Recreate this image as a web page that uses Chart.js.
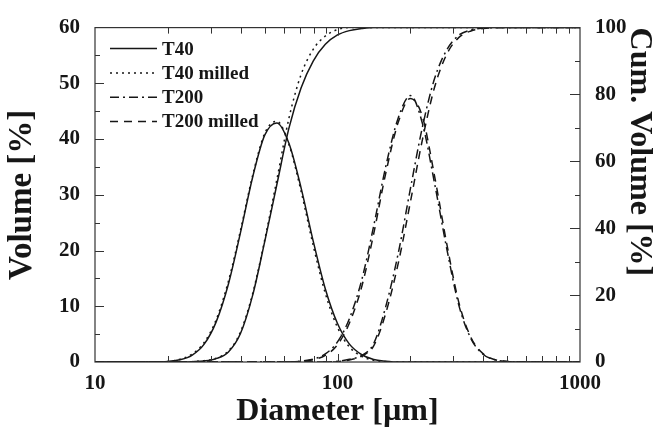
<!DOCTYPE html>
<html><head><meta charset="utf-8">
<script src="https://cdn.jsdelivr.net/npm/chart.js@4.4.1/dist/chart.umd.min.js"></script>
<style>html,body{margin:0;padding:0;background:#fff}#wrap{width:655px;height:431px}</style>
</head><body><div id="wrap"><canvas id="c" width="655" height="431"></canvas></div>
<script>
// ---- data ----
const diameters = [10, 11.2, 12.6, 14.1, 15.8, 17.8, 20, 22.4, 25.1, 28.2, 31.6, 35.5, 39.8, 44.7, 50.1, 56.2, 63.1, 70.8, 79.4, 89.1, 100, 112, 126, 141, 158, 178, 200, 224, 251, 282, 316, 355, 398, 447, 501, 562, 631, 708, 794, 891, 1000];
const t40Vol        = [0,0,0,0,0,0, 0.1,0.4,1.2,3.2,7.2,14.0,23.2,33.2,40.7,42.9,39.2,31.2,21.7,13.1,6.9,3.2,1.3,0.45,0.15, 0,0,0,0,0,0,0,0,0,0,0,0,0,0,0,0];
const t40MilledVol  = [0,0,0,0,0,0, 0.1,0.5,1.4,3.5,7.6,14.5,23.6,33.5,41.0,43.2,39.0,30.6,20.9,12.3,6.2,2.7,1.0,0.3,0.1, 0,0,0,0,0,0,0,0,0,0,0,0,0,0,0,0];
const t200Vol       = [0,0,0,0,0,0,0,0,0,0,0,0,0,0,0,0,0, 0.15,0.5,1.45,3.6,7.8,14.8,24.4,35.0,43.8,47.8,42.8,32.2,20.4,10.3,4.2,1.4,0.4,0.1, 0,0,0,0,0,0];
const t200MilledVol = [0,0,0,0,0,0,0,0,0,0,0,0,0,0,0,0,0, 0.1,0.4,1.2,3.1,7.0,13.6,23.0,33.8,43.0,47.3,44.0,33.5,21.3,10.8,4.4,1.5,0.4,0.1, 0,0,0,0,0,0];
const t40Cum        = [0,0,0,0,0,0,0,0, 0.1,0.3,1.0,3.0,8.5,20,36,53,70,82,90,95,97.8,99.1,99.7, 100,100,100,100,100,100,100,100,100,100,100,100,100,100,100,100,100,100];
const t40MilledCum  = [0,0,0,0,0,0,0,0, 0.1,0.4,1.1,3.3,9.0,20.5,36.5,54.5,73,86,93.5,97.5,99.4, 100,100,100,100,100,100,100,100,100,100,100,100,100,100,100,100,100,100,100,100];
const t200Cum       = [0,0,0,0,0,0,0,0,0,0,0,0,0,0,0,0,0,0,0,0, 0.2,0.8,2.0,5.5,16.5,32.5,52,70.3,84.6,93.3,97.7,99.3,99.85, 100,100,100,100,100,100,100,100];
const t200MilledCum = [0,0,0,0,0,0,0,0,0,0,0,0,0,0,0,0,0,0,0,0, 0.1,0.6,1.8,4.8,14.5,29.5,48,66.5,82,92,97,99,99.7, 100,100,100,100,100,100,100,100];

const seriesNames = ['T40', 'T40 milled', 'T200', 'T200 milled'];
const xTickLabels = [10, 100, 1000];
const xMinorTicks = [20, 30, 40, 50, 60, 70, 80, 90, 200, 300, 400, 500, 600, 700, 800, 900];
const yTicks = [0, 10, 20, 30, 40, 50, 60];
const y2Ticks = [0, 20, 40, 60, 80, 100];

// ---- styles ----
const FONT = "'Liberation Serif', 'Times New Roman', serif";
const INK = '#161616';
const dashStyles = [[], [2, 4], [9, 4, 2, 4], [8, 6]];

function pts(arr) { return diameters.map((d, i) => ({ x: d, y: arr[i] })); }
function ds(label, arr, styleIdx, axis, legend) {
  return {
    label: label, data: pts(arr), yAxisID: axis,
    borderColor: INK, borderWidth: 1.5, borderDash: dashStyles[styleIdx],
    pointRadius: 0, fill: false, cubicInterpolationMode: 'monotone',
    showInLegend: legend
  };
}

const datasets = [
  ds(seriesNames[0], t40Vol, 0, 'y', true),
  ds(seriesNames[1], t40MilledVol, 1, 'y', true),
  ds(seriesNames[2], t200Vol, 2, 'y', true),
  ds(seriesNames[3], t200MilledVol, 3, 'y', true),
  ds(seriesNames[0] + ' cum.', t40Cum, 0, 'y2', false),
  ds(seriesNames[1] + ' cum.', t40MilledCum, 1, 'y2', false),
  ds(seriesNames[2] + ' cum.', t200Cum, 2, 'y2', false),
  ds(seriesNames[3] + ' cum.', t200MilledCum, 3, 'y2', false)
];

const frameTicks = {
  id: 'frameTicks',
  afterDatasetsDraw(chart) {
    const ctx = chart.ctx, a = chart.chartArea;
    const sx = chart.scales.x, sy = chart.scales.y, sy2 = chart.scales.y2;
    ctx.save();
    ctx.strokeStyle = '#333'; ctx.lineWidth = 1.2; ctx.setLineDash([]);
    ctx.strokeRect(a.left, a.top, a.right - a.left, a.bottom - a.top);
    ctx.lineWidth = 1;
    ctx.beginPath();
    const xt = xMinorTicks.map(v => [v, 6]).concat([[100, 8]]);
    xt.forEach(([v, len]) => {
      const px = Math.round(sx.getPixelForValue(v)) + 0.5;
      ctx.moveTo(px, a.bottom); ctx.lineTo(px, a.bottom - len);
      ctx.moveTo(px, a.top); ctx.lineTo(px, a.top + len);
    });
    for (let v = 5; v < 60; v += 5) {
      const py = Math.round(sy.getPixelForValue(v)) + 0.5;
      const len = v % 10 === 0 ? 9 : 5;
      ctx.moveTo(a.left, py); ctx.lineTo(a.left + len, py);
    }
    for (let v = 10; v < 100; v += 10) {
      const py = Math.round(sy2.getPixelForValue(v)) + 0.5;
      const len = v % 20 === 0 ? 10 : 5;
      ctx.moveTo(a.right, py); ctx.lineTo(a.right - len, py);
    }
    ctx.stroke();
    ctx.restore();
  }
};

const inlineLegend = {
  id: 'inlineLegend',
  afterDraw(chart) {
    const ctx = chart.ctx, a = chart.chartArea;
    const entries = chart.data.datasets.filter(d => d.showInLegend);
    ctx.save();
    entries.forEach((d, i) => {
      const y = a.top + 21 + i * 24.3;
      ctx.beginPath();
      ctx.setLineDash(d.borderDash);
      ctx.lineWidth = d.borderWidth;
      ctx.strokeStyle = d.borderColor;
      ctx.moveTo(a.left + 15, y); ctx.lineTo(a.left + 62, y);
      ctx.stroke();
      ctx.setLineDash([]);
      ctx.fillStyle = INK;
      ctx.font = 'bold 19px ' + FONT;
      ctx.textBaseline = 'middle';
      ctx.textAlign = 'left';
      ctx.fillText(d.label, a.left + 67, y + 1);
    });
    ctx.restore();
  }
};

new Chart(document.getElementById('c'), {
  type: 'line',
  data: { datasets: datasets },
  plugins: [frameTicks, inlineLegend],
  options: {
    responsive: false,
    animation: false,
    layout: { padding: { top: 21, left: 0, right: 0, bottom: 0 } },
    plugins: { legend: { display: false }, tooltip: { enabled: false } },
    scales: {
      x: {
        type: 'logarithmic', min: 10, max: 1000, position: 'bottom',
        afterBuildTicks: s => { s.ticks = xTickLabels.map(v => ({ value: v, major: true })); },
        afterFit: s => { s.height = 69; },
        grid: { display: false, drawTicks: false },
        border: { display: false },
        ticks: { autoSkip: false, maxRotation: 0, padding: 9, color: INK,
                 font: { family: FONT, size: 21, weight: 'bold' },
                 callback: v => String(v) },
        title: { display: true, text: 'Diameter [µm]', color: INK, padding: { top: 2, bottom: 0 },
                 font: { family: FONT, size: 32, weight: 'bold' } }
      },
      y: {
        type: 'linear', min: 0, max: 60, position: 'left',
        afterBuildTicks: s => { s.ticks = yTicks.map(v => ({ value: v })); },
        afterFit: s => { s.width = 95; },
        grid: { display: false, drawTicks: false },
        border: { display: false },
        ticks: { padding: 15, color: INK, font: { family: FONT, size: 21, weight: 'bold' } },
        title: { display: true, text: 'Volume [%]', color: INK, padding: { top: 3, bottom: 0 },
                 font: { family: FONT, size: 33, weight: 'bold' } }
      },
      y2: {
        type: 'linear', min: 0, max: 100, position: 'right',
        afterBuildTicks: s => { s.ticks = y2Ticks.map(v => ({ value: v })); },
        afterFit: s => { s.width = 75; },
        grid: { display: false, drawTicks: false },
        border: { display: false },
        ticks: { padding: 15, color: INK, font: { family: FONT, size: 21, weight: 'bold' } },
        title: { display: true, text: 'Cum. Volume [%]', color: INK, align: 'end', padding: { top: 0, bottom: 0 },
                 font: { family: FONT, size: 32, weight: 'bold', lineHeight: 1 } }
      }
    }
  }
});
</script>
</body></html>
